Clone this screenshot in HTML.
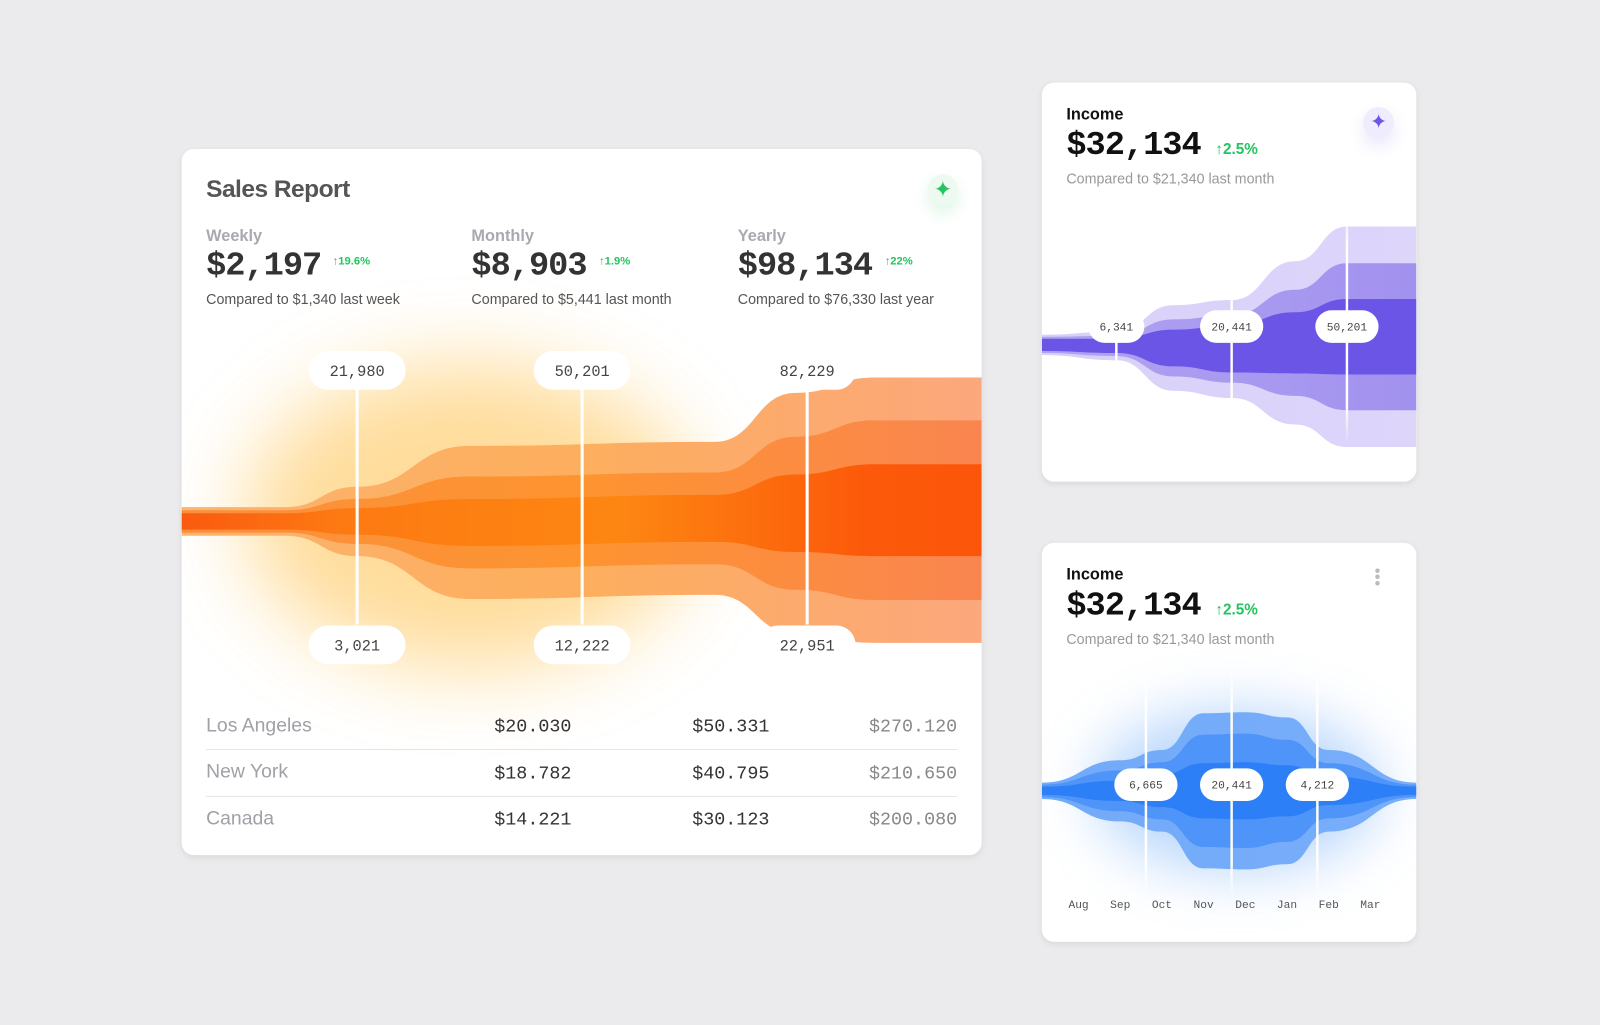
<!DOCTYPE html>
<html><head><meta charset="utf-8">
<style>
html,body{margin:0;padding:0;width:1600px;height:1024px;overflow:hidden;background:#ebebed;}
#wrap{position:absolute;left:0;top:0;width:1568px;height:1004px;transform:scale(1.020408);transform-origin:0 0;font-family:"Liberation Sans",sans-serif;}
.card{position:absolute;background:#fff;border-radius:12px;box-shadow:0 2px 6px rgba(0,0,0,0.08);overflow:hidden;}
.abs{position:absolute;white-space:nowrap;}
.mono{font-family:"Liberation Mono",monospace;}
.lbl{color:#a9a9b0;font-size:16px;font-weight:bold;}
.val{font-size:33px;font-weight:bold;color:#333;letter-spacing:-1px;}
.pct{color:#22c55e;font-size:11px;font-weight:bold;}
.cmp{font-size:14px;color:#555;}
.city{font-size:19px;color:#a0a0a6;}
.num{font-size:18px;color:#333;text-align:right;}
.sep{position:absolute;height:1px;background:#e6e6ea;left:24px;width:736px;}
</style></head><body>
<div id="wrap">
 <div class="card" style="left:178px;top:146px;width:784px;height:692px;">
  <svg id="orange" width="784" height="692" style="position:absolute;left:0;top:0"></svg>
  <div class="abs" style="left:24px;top:26px;font-size:24px;font-weight:bold;color:#555;letter-spacing:-0.5px">Sales Report</div>
  <div class="abs" style="left:731px;top:25px;width:30px;height:30px;border-radius:15px;background:#eefaf1;box-shadow:0 8px 16px rgba(34,197,94,0.15);color:#22c55e;font-size:22px;line-height:30px;text-align:center">✦</div>
  <div class="abs lbl" style="left:24px;top:77px">Weekly</div>
  <div class="abs mono val" style="left:24px;top:96px">$2,197</div>
  <div class="abs pct" style="left:148px;top:104px">↑19.6%</div>
  <div class="abs cmp" style="left:24px;top:139px">Compared to $1,340 last week</div>
  <div class="abs lbl" style="left:284px;top:77px">Monthly</div>
  <div class="abs mono val" style="left:284px;top:96px">$8,903</div>
  <div class="abs pct" style="left:409px;top:104px">↑1.9%</div>
  <div class="abs cmp" style="left:284px;top:139px">Compared to $5,441 last month</div>
  <div class="abs lbl" style="left:545px;top:77px">Yearly</div>
  <div class="abs mono val" style="left:545px;top:96px">$98,134</div>
  <div class="abs pct" style="left:689px;top:104px">↑22%</div>
  <div class="abs cmp" style="left:545px;top:139px">Compared to $76,330 last year</div>
  <div class="abs city" style="left:24px;top:555px">Los Angeles</div>
  <div class="abs mono num" style="right:402px;top:557px">$20.030</div>
  <div class="abs mono num" style="right:208px;top:557px">$50.331</div>
  <div class="abs mono num" style="right:24px;top:557px;color:#888">$270.120</div>
  <div class="sep" style="top:588px"></div>
  <div class="abs city" style="left:24px;top:600px">New York</div>
  <div class="abs mono num" style="right:402px;top:603px">$18.782</div>
  <div class="abs mono num" style="right:208px;top:603px">$40.795</div>
  <div class="abs mono num" style="right:24px;top:603px;color:#888">$210.650</div>
  <div class="sep" style="top:634px"></div>
  <div class="abs city" style="left:24px;top:646px">Canada</div>
  <div class="abs mono num" style="right:402px;top:648px">$14.221</div>
  <div class="abs mono num" style="right:208px;top:648px">$30.123</div>
  <div class="abs mono num" style="right:24px;top:648px;color:#888">$200.080</div>
 </div>

 <div class="card" style="left:1021px;top:81px;width:367px;height:391px;">
  <svg id="purple" width="367" height="391" style="position:absolute;left:0;top:0"></svg>
  <div class="abs" style="left:24px;top:23px;font-size:16px;font-weight:bold;color:#111">Income</div>
  <div class="abs mono" style="left:24px;top:43px;font-size:33px;font-weight:bold;color:#111;letter-spacing:-1px">$32,134</div>
  <div class="abs" style="left:170px;top:57px;font-size:15px;font-weight:bold;color:#22c55e">↑2.5%</div>
  <div class="abs" style="left:24px;top:86px;font-size:14px;color:#999">Compared to $21,340 last month</div>
  <div class="abs" style="left:315px;top:24px;width:30px;height:30px;border-radius:15px;background:#efecfd;box-shadow:0 8px 16px rgba(108,86,230,0.15);color:#6c56e6;font-size:20px;line-height:30px;text-align:center">✦</div>
 </div>

 <div class="card" style="left:1021px;top:532px;width:367px;height:391px;">
  <svg id="blue" width="367" height="391" style="position:absolute;left:0;top:0"></svg>
  <div class="abs" style="left:24px;top:23px;font-size:16px;font-weight:bold;color:#111">Income</div>
  <div class="abs mono" style="left:24px;top:43px;font-size:33px;font-weight:bold;color:#111;letter-spacing:-1px">$32,134</div>
  <div class="abs" style="left:170px;top:57px;font-size:15px;font-weight:bold;color:#22c55e">↑2.5%</div>
  <div class="abs" style="left:24px;top:86px;font-size:14px;color:#999">Compared to $21,340 last month</div>
  <div class="abs" style="left:325px;top:26px;width:8px;height:22px;color:#bbb;font-size:16px;line-height:6px;text-align:center">•<br>•<br>•</div>
 </div>
</div>
<script>
// ---------- Orange (sales) ----------
const salesStages = [0.22, 0.68, 1, 1.5, 2.59, 2.95, 3.3, 3.78];
const salesCenter = [511, 511, 511, 512, 508, 503, 500, 500];
const salesCore = [8, 8, 13, 23, 23, 38, 45, 45];
const salesMid = [11, 11, 22, 45, 45, 75, 88, 88];
const salesOuter = [14, 14, 34, 75, 75, 118, 130, 130];
const salesTopLabels = ["21,980", "50,201", "82,229"];
const salesBottomLabels = ["3,021", "12,222", "22,951"];
const salesMarkerStages = [1, 2, 3];

// ---------- Purple (income) ----------
const incStages = [0.35, 1, 1.5, 2, 2.55, 3, 3.6];
const incCenter = [338, 339, 341, 342, 336, 330, 330];
const incCore = [6, 7, 18, 23, 30, 37, 37];
const incMid = [8, 10, 28, 33, 52, 72, 72];
const incOuter = [10, 14, 42, 48, 80, 108, 108];
const incLabels = ["6,341", "20,441", "50,201"];
const incMarkerStages = [1, 2, 3];

// ---------- Blue (monthly) ----------
const months = ["Aug","Sep","Oct","Nov","Dec","Jan","Feb","Mar"];
const blueCore = [4, 10, 16, 27, 28, 25, 14, 4];
const blueMid = [6, 20, 28, 55, 56, 50, 27, 6];
const blueOuter = [8, 30, 40, 76, 77, 72, 40, 8];
const blueLabels = ["6,665", "20,441", "4,212"];
const blueMarkerIdx = [2, 4, 6];

const NS = "http://www.w3.org/2000/svg";
function mk(tag, attrs, parent){const e=document.createElementNS(NS,tag);for(const k in attrs)e.setAttribute(k,attrs[k]);parent.appendChild(e);return e;}
function curve(pts){let d="";pts.forEach((p,i)=>{if(i===0)d+="M"+p[0]+","+p[1];else{const q=pts[i-1];const mx=(q[0]+p[0])/2;d+=" C"+mx+","+q[1]+" "+mx+","+p[1]+" "+p[0]+","+p[1];}});return d;}
function band(xs, center, half){
  const top=xs.map((x,i)=>[x,center[i]-half[i]]);
  const bot=xs.map((x,i)=>[x,center[i]+half[i]]).reverse();
  let d=curve(top);
  const bc=curve(bot);
  d+=" L"+bc.slice(1);
  return d+" Z";
}
function grad(svg,id,stops){
  let defs=svg.querySelector("defs")||mk("defs",{},svg);
  const g=mk("linearGradient",{id:id,x1:"0",x2:"1",y1:"0",y2:"0"},defs);
  stops.forEach(s=>mk("stop",{offset:s[0],"stop-color":s[1]},g));
}
function pill(svg,cx,cy,w,h,text,fs,name){
  const g=mk("g",{},svg);
  
  
  mk("rect",{x:cx-w/2,y:cy-h/2,width:w,height:h,rx:h/2,fill:"#fff"},g);
  const t=mk("text",{x:cx,y:cy+fs*0.36,"text-anchor":"middle","font-family":"Liberation Mono, monospace","font-size":fs,fill:"#444"},g);
  t.textContent=text;
}

// Orange chart
(function(){
  const svg=document.getElementById("orange");
  const oy=146;
  const X=s=>172+(s-1)*220.5;
  const xs=salesStages.map(s=>X(s));
  const cy=salesCenter.map(v=>v-oy);
  let defs=mk("defs",{},svg);
  const f=mk("filter",{id:"blurO",x:"-50%",y:"-50%",width:"200%",height:"200%"},defs);
  mk("feGaussianBlur",{stdDeviation:"40"},f);
  grad(svg,"oOuter",[["0","#fcb36e"],["0.5","#fdae5d"],["1","#fca77c"]]);
  grad(svg,"oMid",[["0","#fb8f3c"],["0.5","#fd9430"],["1","#fa8550"]]);
  grad(svg,"oCore",[["0","#fa5a10"],["0.2","#fd7a12"],["0.55","#fd8612"],["0.85","#fc5a0a"],["1","#fb5509"]]);
  const glow=mk("ellipse",{cx:X(1.5),cy:360,rx:220,ry:150,fill:"#ffd17a",opacity:"0.75",filter:"url(#blurO)"},svg);
  
  
  [[salesOuter,"oOuter","outer-layer"],[salesMid,"oMid","middle-layer"],[salesCore,"oCore","core-layer"]].forEach(l=>{
    const p=mk("path",{d:band(xs,cy,l[0]),fill:"url(#"+l[1]+")"},svg);
    
    
  });
  salesMarkerStages.forEach((s,i)=>{
    const x=X(s);
    const ln=mk("rect",{x:x-1.5,y:380-oy,width:3,height:232,fill:"#fff"},svg);
    
    
    pill(svg,x,363-oy,95,38,salesTopLabels[i],15,"top-value-label");
    pill(svg,x,632-oy,95,38,salesBottomLabels[i],15,"bottom-value-label");
  });
})();

// Purple chart
(function(){
  const svg=document.getElementById("purple");
  const oy=81;
  const X=s=>73+(s-1)*113;
  const xs=incStages.map(s=>X(s));
  xs[0]=0; xs[xs.length-1]=367;
  const cy=incCenter.map(v=>v-oy);
  grad(svg,"pOuter",[["0","#d8d0f8"],["1","#ddd5fa"]]);
  grad(svg,"pMid",[["0","#b0a2f2"],["1","#a292ef"]]);
  grad(svg,"pCore",[["0","#6b55e6"],["1","#6a55e6"]]);
  let defs=svg.querySelector("defs");
  const fade=mk("linearGradient",{id:"pFade",x1:"0",x2:"0",y1:"0",y2:"1"},defs);
  mk("stop",{offset:"0","stop-color":"#fff","stop-opacity":"0"},fade);
  mk("stop",{offset:"0.2","stop-color":"#fff","stop-opacity":"1"},fade);
  mk("stop",{offset:"0.85","stop-color":"#fff","stop-opacity":"1"},fade);
  mk("stop",{offset:"1","stop-color":"#fff","stop-opacity":"0"},fade);
  [[incOuter,"pOuter","outer-layer"],[incMid,"pMid","middle-layer"],[incCore,"pCore","core-layer"]].forEach(l=>{
    const p=mk("path",{d:band(xs,cy,l[0]),fill:"url(#"+l[1]+")"},svg);
    
    
  });
  incMarkerStages.forEach((s,i)=>{
    const x=X(s);
    const ln=mk("rect",{x:x-1.2,y:190-oy,width:2.4,height:245,fill:"url(#pFade)"},svg);
    
    
    pill(svg,x,320-oy,i===0?55:62,32,incLabels[i],11,"value-label");
  });
})();

// Blue chart
(function(){
  const svg=document.getElementById("blue");
  const ox=1021, oy=532;
  const X=i=>(1057-ox)+i*(1343-1057)/(months.length-1);
  const xs=months.map((m,i)=>X(i));
  xs[0]=0; xs[xs.length-1]=367;
  const cy=months.map(()=>775-oy);
  let defs=mk("defs",{},svg);
  const f=mk("filter",{id:"blurB",x:"-50%",y:"-50%",width:"200%",height:"200%"},defs);
  mk("feGaussianBlur",{stdDeviation:"28"},f);
  grad(svg,"bOuter",[["0","#72aaf9"],["1","#78aefa"]]);
  grad(svg,"bMid",[["0","#4f94f8"],["1","#4f94f8"]]);
  grad(svg,"bCore",[["0","#2c7ff6"],["1","#2c7ff6"]]);
  const fade=mk("linearGradient",{id:"bFade",x1:"0",x2:"0",y1:"0",y2:"1"},defs);
  mk("stop",{offset:"0","stop-color":"#fff","stop-opacity":"0"},fade);
  mk("stop",{offset:"0.2","stop-color":"#fff","stop-opacity":"1"},fade);
  mk("stop",{offset:"0.85","stop-color":"#fff","stop-opacity":"1"},fade);
  mk("stop",{offset:"1","stop-color":"#fff","stop-opacity":"0"},fade);
  const glow=mk("ellipse",{cx:X(3.8),cy:775-oy,rx:140,ry:80,fill:"#a9cdfb",opacity:"0.8",filter:"url(#blurB)"},svg);
  
  
  [[blueOuter,"bOuter","outer-layer"],[blueMid,"bMid","middle-layer"],[blueCore,"bCore","core-layer"]].forEach(l=>{
    const p=mk("path",{d:band(xs,cy,l[0]),fill:"url(#"+l[1]+")"},svg);
    
    
  });
  const Xl=i=>(1123-ox)+(i-2)*((1291-1123)/4);
  blueMarkerIdx.forEach((m,i)=>{
    const x=Xl(m);
    const ln=mk("rect",{x:x-1.2,y:640-oy,width:2.4,height:245,fill:"url(#bFade)"},svg);
    
    
    pill(svg,x,769-oy,62,32,blueLabels[i],11,"value-label");
  });
  months.forEach((m,i)=>{
    const t=mk("text",{x:X(i),y:890-oy,"text-anchor":"middle","font-family":"Liberation Mono, monospace","font-size":11,fill:"#555"},svg);
    
    
    t.textContent=m;
  });
})();
</script>
</body></html>
